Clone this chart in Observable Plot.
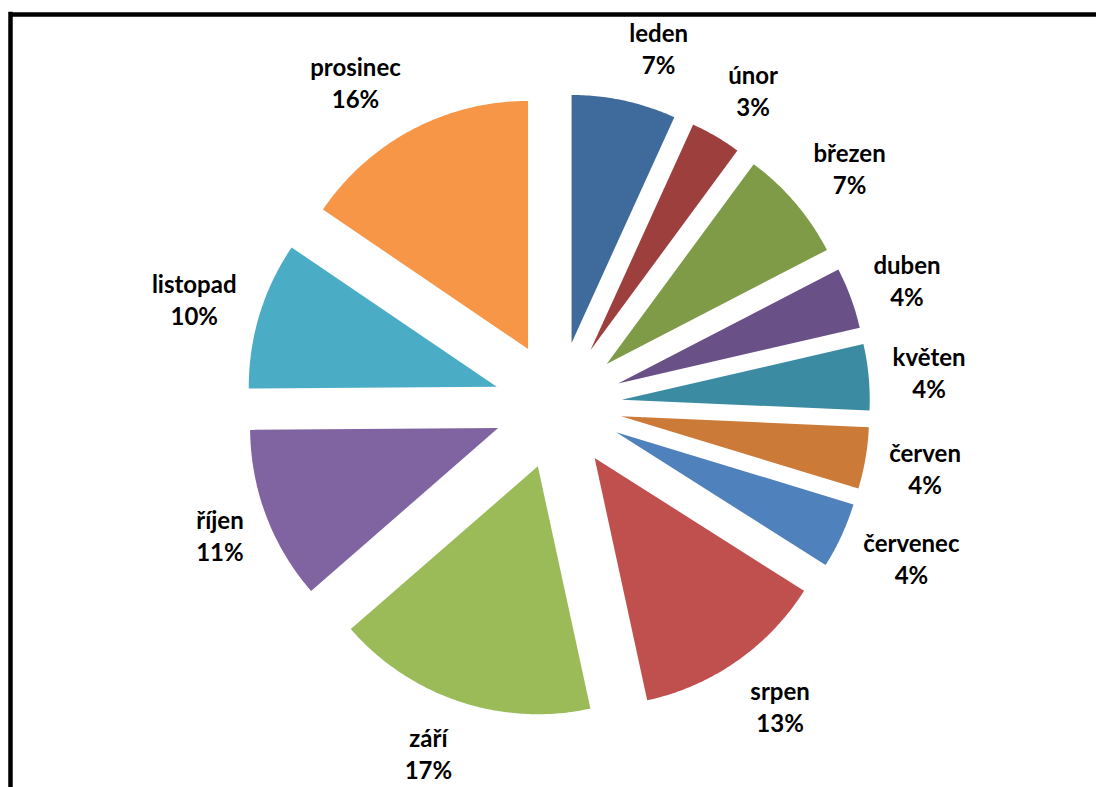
<!DOCTYPE html>
<html>
<head>
<meta charset="utf-8">
<script src="https://cdn.jsdelivr.net/npm/d3@7"></script>
<script src="https://cdn.jsdelivr.net/npm/@observablehq/plot@0.6"></script>
<style>
  html, body { margin: 0; padding: 0; background: #fff; overflow: hidden; }
  #chart svg { display: block; }
</style>
</head>
<body>
<div id="chart"></div>
<script>
// ---- data ----
const months = ["leden", "únor", "březen", "duben", "květen", "červen",
                "červenec", "srpen", "září", "říjen", "listopad", "prosinec"];
const shares = [6.8, 3.3, 7.3, 4.0, 4.3, 4.0, 4.3, 12.6, 17.0, 11.3, 9.6, 15.5];
const colors = ["#3F6A9C", "#9D403D", "#7F9B48", "#695086", "#3B8CA3", "#CC7A38",
                "#4F81BD", "#C0504D", "#9BBB59", "#8064A2", "#4BACC6", "#F79646"];

// ---- layout parameters (pie in unit radius) ----
const W = 1096, H = 787;
const mL = 10, mT = 14;
const cx = 557.5, cy = 405, pxPerUnit = 248;
const explode = 64 / 248;
const fontSize = 24;
const fontFamily = "Lato, 'Open Sans', sans-serif";
const labelR0 = 336;      // px from centre to label box edge
const halfH = 30;         // half height of two-line label block (px)

const ctx = document.createElement("canvas").getContext("2d");
ctx.font = `bold ${fontSize}px Lato`;

const total = d3.sum(shares);
const arcs = d3.pie().sort(null).value(d => d)(shares);

const slicePts = [];
const labels = [];
const clamp = v => Math.max(-1, Math.min(1, v));
arcs.forEach((a, i) => {
  const mid = (a.startAngle + a.endAngle) / 2;
  const ox = explode * Math.sin(mid), oy = explode * Math.cos(mid);
  slicePts.push({month: months[i], x: ox, y: oy});
  const n = Math.max(10, Math.ceil((a.endAngle - a.startAngle) / 0.01));
  for (let k = 0; k <= n; k++) {
    const t = a.startAngle + (a.endAngle - a.startAngle) * k / n;
    slicePts.push({month: months[i], x: ox + Math.sin(t), y: oy + Math.cos(t)});
  }
  slicePts.push({month: months[i], x: ox, y: oy});

  const pct = Math.round(shares[i] / total * 100) + "%";
  const halfW = Math.max(ctx.measureText(months[i]).width, ctx.measureText(pct).width) / 2;
  const s = Math.sin(mid), c = Math.cos(mid);
  const px = labelR0 * s + halfW * clamp(5 * s);
  const py = labelR0 * c + halfH * clamp(1 * c);
  labels.push({x: px / pxPerUnit, y: py / pxPerUnit, text: months[i] + "\n" + pct});
});

const xDom = [(mL - cx) / pxPerUnit, (W - cx) / pxPerUnit];
const yDom = [(cy - H) / pxPerUnit, (cy - mT) / pxPerUnit];

const chart = Plot.plot({
  width: W,
  height: H,
  marginLeft: mL,
  marginTop: mT,
  marginRight: 0,
  marginBottom: 0,
  x: {domain: xDom, axis: null},
  y: {domain: yDom, axis: null},
  color: {domain: months, range: colors},
  style: {fontFamily, background: "#fff"},
  marks: [
    Plot.line(slicePts, {x: "x", y: "y", z: "month", fill: "month", stroke: null}),
    Plot.text(labels, {
      x: "x", y: "y", text: "text",
      fontSize, fontWeight: "bold", lineHeight: 32 / fontSize, fill: "black"
    }),
    Plot.ruleX([xDom[0]], {stroke: "black", strokeWidth: 4.5, strokeLinecap: "square"}),
    Plot.ruleY([yDom[1]], {x1: xDom[0], x2: xDom[1] + 0.2, stroke: "black", strokeWidth: 4.5, strokeLinecap: "butt"})
  ]
});
document.getElementById("chart").appendChild(chart);
</script>
</body>
</html>
